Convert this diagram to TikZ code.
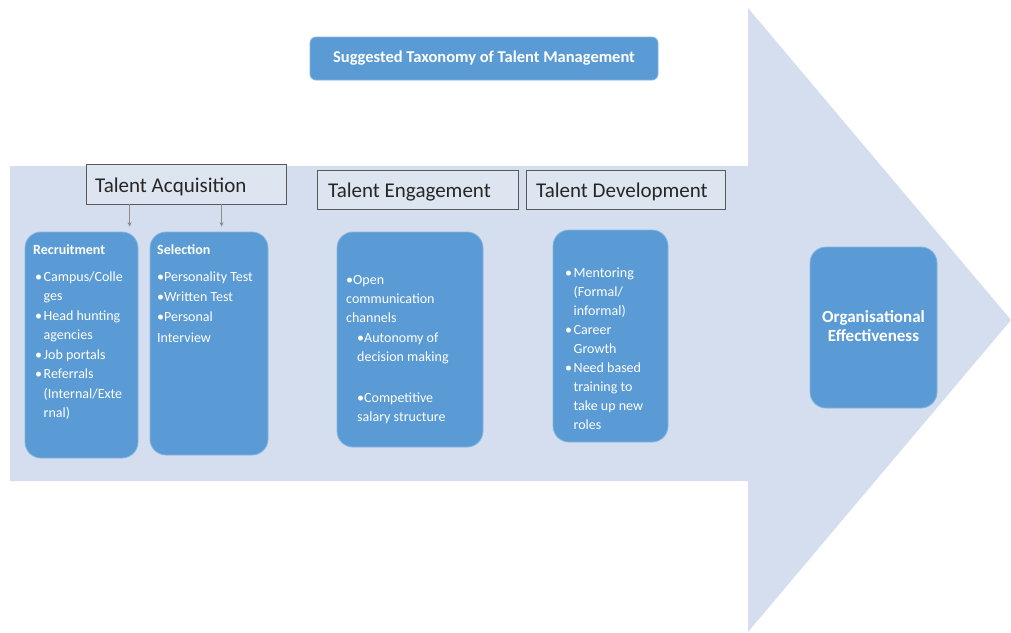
\documentclass[tikz,border=0pt]{standalone}
\usepackage{fontspec}
\setmainfont{Carlito}
\usetikzlibrary{arrows.meta,calc}

\definecolor{shaft}{HTML}{D4DEEE}
\definecolor{boxblue}{HTML}{5B9BD5}
\definecolor{hdrline}{HTML}{595959}
\definecolor{hdrink}{HTML}{262626}
\definecolor{linkgray}{HTML}{8C8C8C}

% bullet with a hanging indent, and the matching indent for wrapped lines
\newcommand\bul{\makebox[8.5pt][l]{•}}
\newcommand\ind{\hspace*{8.5pt}}

\begin{document}
\begin{tikzpicture}[x=1pt,y=-1pt,
  bluebox/.style={rectangle, rounded corners=16pt, fill=boxblue,
    draw=boxblue!75!white, line width=0.8pt, inner sep=0pt},
  hdrbox/.style={rectangle, draw=hdrline, fill=shaft!80!white,
    line width=0.8pt, inner sep=0pt},
  hdrtext/.style={text=hdrink, font=\fontsize{21}{25}\selectfont,
    inner sep=0pt, anchor=base west},
  % multi-line texts are placed by the baseline of their last line
  boxtext/.style={text=white, align=left, inner sep=0pt, anchor=base west,
    font=\fontsize{14}{19.5}\selectfont},
  link/.style={draw=linkgray, line width=0.7pt,
    -{Stealth[length=4.5pt,width=4pt]}}
]
\useasboundingbox (0,0) rectangle (1011,632);

% the big arrow that carries the whole process
\fill[shaft] (10,166) -- (748,166) -- (748,8) -- (1011,320)
  -- (748,632) -- (748,481) -- (10,481) -- cycle;

% title
\node[bluebox, rounded corners=6pt, minimum width=348pt, minimum height=43pt,
  text=white, font=\bfseries\fontsize{16.5}{20}\selectfont]
  (title) at (484,58.5) {Suggested Taxonomy of Talent Management};

% stage headers
\node[hdrbox, minimum width=200pt, minimum height=40pt] (ta) at (186,184) {};
\node[hdrtext] (tatext) at (95,192) {Talent Acquisition};
\node[hdrbox, minimum width=201pt, minimum height=39pt] (te) at (417.5,189.5) {};
\node[hdrtext] (tetext) at (328,197) {Talent Engagement};
\node[hdrbox, minimum width=199pt, minimum height=39pt] (td) at (625.5,189.5) {};
\node[hdrtext] (tdtext) at (536,197) {Talent Development};

% content boxes
\node[bluebox, minimum width=113pt, minimum height=226pt] (rec) at (81.5,345) {};
\node[bluebox, minimum width=118pt, minimum height=223pt] (sel) at (209,343.5) {};
\node[bluebox, minimum width=146pt, minimum height=215pt] (eng) at (410,339.5) {};
\node[bluebox, minimum width=115pt, minimum height=212pt] (dev) at (610.5,336) {};
\node[bluebox, minimum width=127pt, minimum height=161pt] (org) at (873.5,327.5) {};

% box texts
\node[boxtext] (rectext) at (33,417.5) {\textbf{Recruitment}\\[7.5pt]
  \hspace*{2pt}\bul Campus/Colle\\
  \hspace*{2pt}\ind ges\\
  \hspace*{2pt}\bul Head hunting\\
  \hspace*{2pt}\ind agencies\\
  \hspace*{2pt}\bul Job portals\\
  \hspace*{2pt}\bul Referrals\\
  \hspace*{2pt}\ind (Internal/Exte\\
  \hspace*{2pt}\ind rnal)};

\node[boxtext, font=\fontsize{14}{20.3}\selectfont] (seltext) at (157,342)
  {\textbf{Selection}\\[6.7pt]
  •Personality Test\\
  •Written Test\\
  •Personal\\
  Interview};

\node[boxtext, font=\fontsize{14}{19.3}\selectfont] (engtext) at (346,421.5)
  {•Open\\
  communication\\
  channels\\
  \hspace*{11pt}•Autonomy of\\
  \hspace*{11pt}decision making\\[21.5pt]
  \hspace*{11pt}•Competitive\\
  \hspace*{11pt}salary structure};

\node[boxtext, font=\fontsize{14}{19}\selectfont] (devtext) at (565,429)
  {\bul Mentoring\\
  \ind (Formal/\\
  \ind informal)\\
  \bul Career\\
  \ind Growth\\
  \bul Need based\\
  \ind training to\\
  \ind take up new\\
  \ind roles};

\node[text=white, align=center, inner sep=0pt, anchor=base,
  font=\bfseries\fontsize{17}{19.5}\selectfont]
  (orgtext) at (873.5,341.5) {Organisational\\Effectiveness};

% acquisition splits into recruitment and selection
\draw[link] ($(ta.south west)+(44,0)$) -- ($(ta.south west |- rec.north)+(44,-5)$);
\draw[link] ($(ta.south west)+(136,0)$) -- ($(ta.south west |- sel.north)+(136,-5)$);
\end{tikzpicture}
\end{document}
